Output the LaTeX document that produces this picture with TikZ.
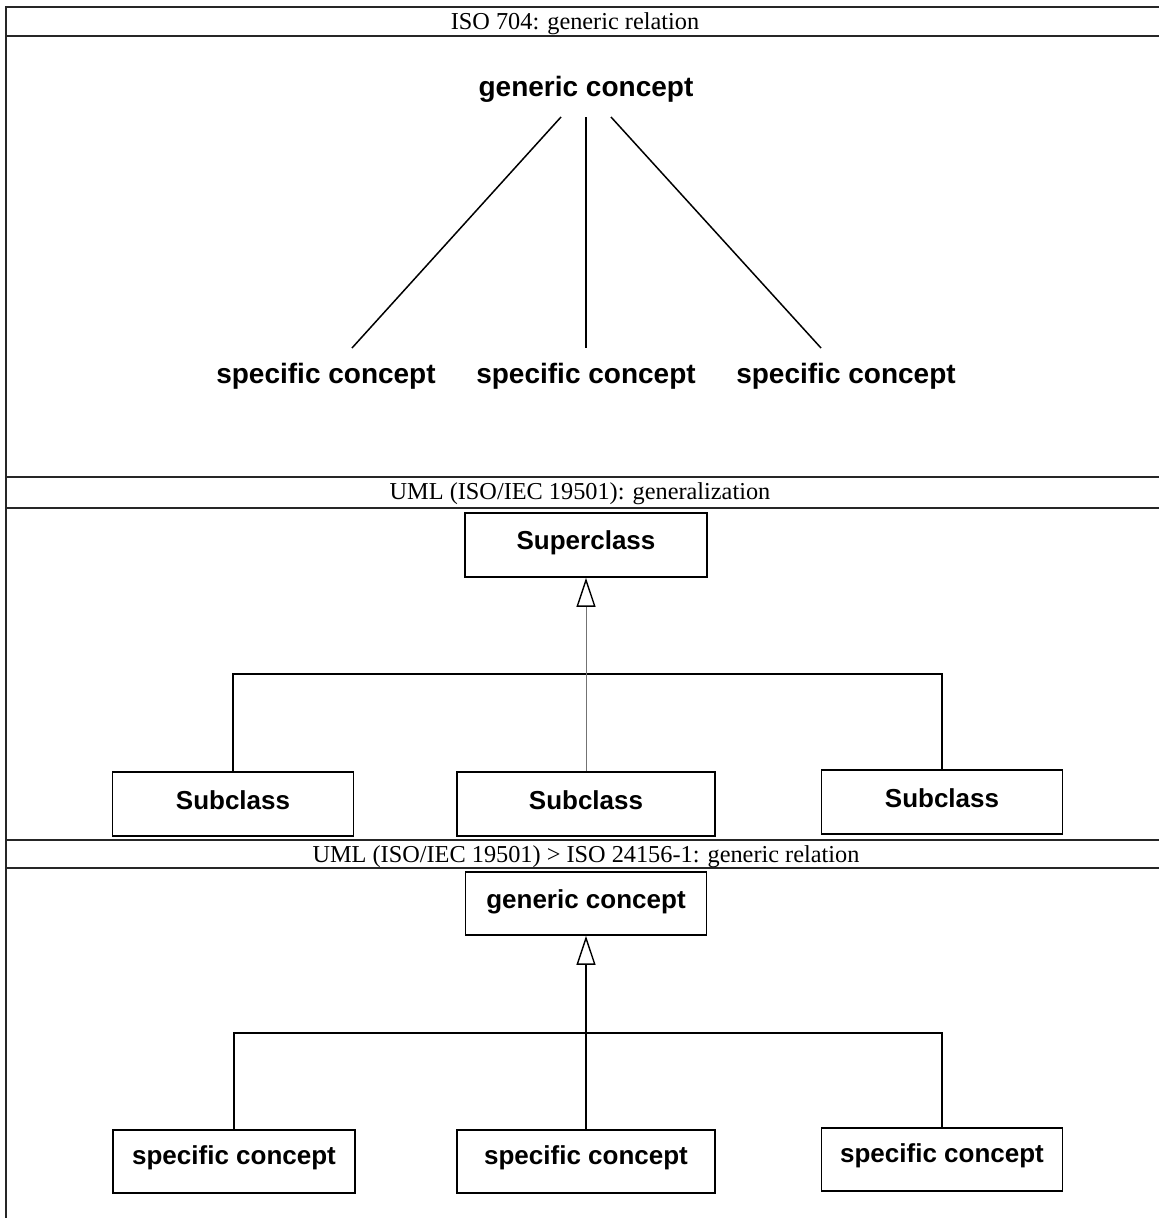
\documentclass[tikz,border=0pt]{standalone}
\usepackage{fontspec}
\setmainfont{Liberation Serif}
\newfontfamily\arialfont{Liberation Sans}
\usetikzlibrary{arrows.meta,calc}
\begin{document}
\begin{tikzpicture}[x=1pt,y=-1pt,
  rule/.style={line width=2.2pt,black!85},
  header/.style={font=\fontsize{24.3}{26}\selectfont, inner sep=0pt},
  plainlabel/.style={font=\arialfont\bfseries\fontsize{28}{30}\selectfont, inner sep=0pt},
  umlbox/.style={draw=black, line width=1.7pt, fill=white, inner sep=0pt},
  boxtext/.style={font=\arialfont\bfseries\fontsize{26}{28}\selectfont, inner sep=0pt},
  treeline/.style={line width=1.7pt, black},
  thinline/.style={line width=1pt, black!55},
  gen/.style={-{Triangle[open, length=29pt, width=19pt, line width=1.4pt, color=black]}}
]
\useasboundingbox (0,0) rectangle (1159,1218);
% table frame
\draw[rule] (6,7) -- (1159,7);
\draw[rule] (6,36) -- (1159,36);
\draw[rule] (6,477) -- (1159,477);
\draw[rule] (6,508) -- (1159,508);
\draw[rule] (6,840) -- (1159,840);
\draw[rule] (6,868) -- (1159,868);
\draw[line width=1.8pt, black!85] (6,6) -- (6,1218);
% headers
\node[header] (h1) at (575,24) {ISO 704: generic relation};
\node[header] (h2) at (580,494) {UML (ISO/IEC 19501): generalization};
\node[header] (h3) at (586,857) {UML (ISO/IEC 19501) > ISO 24156-1: generic relation};

% section 1: ISO 704
\node[plainlabel] (gc) at (586,89) {generic concept};
\node[plainlabel] (sc1) at (326,376) {specific concept};
\node[plainlabel] (sc2) at (586,376) {specific concept};
\node[plainlabel] (sc3) at (846,376) {specific concept};
\draw[line width=1.5pt] ($(gc)+(-25,28)$) -- ($(sc1)+(26,-28)$);
\draw[line width=1.5pt] ($(gc)+(0,28)$) -- ($(sc2)+(0,-28)$);
\draw[line width=1.5pt] ($(gc)+(25,28)$) -- ($(sc3)+(-25,-28)$);

% section 2: UML generalization
\node[umlbox, minimum width=242pt, minimum height=64pt] (sup) at (586,545) {};
\node[boxtext] (tsup) at (586,543) {Superclass};
\node[umlbox, minimum width=241pt, minimum height=64pt] (sb1) at (233,804) {};
\node[umlbox, minimum width=258pt, minimum height=64pt] (sb2) at (586,804) {};
\node[umlbox, minimum width=241pt, minimum height=64pt] (sb3) at (942,802) {};
\node[boxtext] (tsb1) at (233,800) {Subclass};
\node[boxtext] (tsb2) at (586,800) {Subclass};
\node[boxtext] (tsb3) at (942,798) {Subclass};
\coordinate (j2) at (586,674);
\draw[treeline] (sb1.north) |- (j2) -| (sb3.north);
\draw[thinline, gen] (sb2.north) -- (sup.south);

% section 3: UML > ISO 24156-1
\node[umlbox, minimum width=241pt, minimum height=63pt] (gen) at (586,903.5) {};
\node[boxtext] (tgen) at (586,902) {generic concept};
\node[umlbox, minimum width=242pt, minimum height=63pt] (sp1) at (234,1161.5) {};
\node[umlbox, minimum width=258pt, minimum height=63pt] (sp2) at (586,1161.5) {};
\node[umlbox, minimum width=241pt, minimum height=63pt] (sp3) at (942,1159.5) {};
\node[boxtext] (tsp1) at (234,1158) {specific concept};
\node[boxtext] (tsp2) at (586,1158) {specific concept};
\node[boxtext] (tsp3) at (942,1156) {specific concept};
\coordinate (j3) at (586,1033);
\draw[treeline] (sp1.north) |- (j3) -| (sp3.north);
\draw[treeline, gen] (sp2.north) -- (gen.south);
\end{tikzpicture}
\end{document}
